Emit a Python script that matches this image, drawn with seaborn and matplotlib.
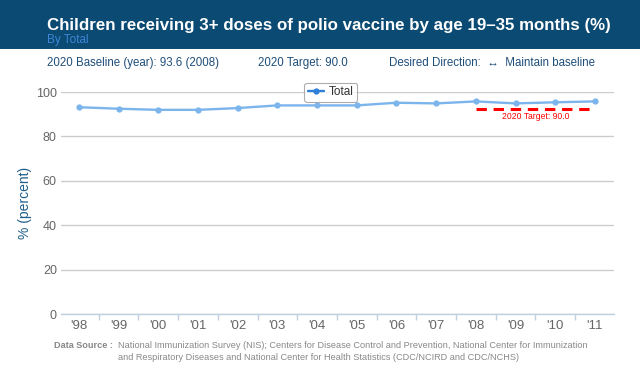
import numpy as np
import pandas as pd
import matplotlib
matplotlib.use("Agg")
import matplotlib.pyplot as plt
import seaborn as sns
from matplotlib.patches import Rectangle

# values
years = ["'98", "'99", "'00", "'01", "'02", "'03", "'04", "'05", "'06", "'07", "'08", "'09", "'10", "'11"]
total = [93.2, 92.5, 92.0, 92.0, 92.8, 94.0, 94.0, 94.0, 95.2, 94.9, 95.8, 94.9, 95.4, 95.8]
target_years = ["'08", "'09", "'10", "'11"]
target_level = [92.5, 92.5, 92.5, 92.5]   # drawn position of the 90.0 target line
y_ticks = [0, 20, 40, 60, 80, 100]

sns.set_theme(style="white")
plt.rcParams['font.family'] = ['Liberation Sans', 'DejaVu Sans']

df = pd.DataFrame({"pos": np.arange(len(years)), "Total": total})
tdf = pd.DataFrame({"pos": [years.index(y) for y in target_years], "val": target_level})

fig = plt.figure(figsize=(6.4, 3.65), dpi=100)
ax = fig.add_axes([0.0953, 0.1397, 0.8641, 0.608])

sns.lineplot(data=df, x="pos", y="Total", ax=ax, color="#7cb5ec", linewidth=1.7,
             marker="o", markersize=4.5, markeredgewidth=0, label="Total")
sns.lineplot(data=tdf, x="pos", y="val", ax=ax, color="#ff0000", linewidth=2.2,
             legend=False)
ax.lines[-1].set_linestyle((0, (3.4, 2.2)))
ax.text(tdf["pos"].mean(), target_level[0] - 3.4, "2020 Target: 90.0", color="#ff0000",
        fontsize=6.2, ha="center", va="center")

ax.set_xlim(-0.45, len(years) - 0.52)
ax.set_ylim(0, 100)
ax.set_yticks(y_ticks)
ax.set_xticks(np.arange(len(years)))
ax.set_xticklabels(years)
ax.set_xticks(np.arange(len(years) - 1) + 0.5, minor=True)
ax.tick_params(axis="x", which="major", length=0, pad=4.5, labelsize=9.5, labelcolor="#666666")
ax.tick_params(axis="x", which="minor", length=4, color="#c0d0e0", width=1, bottom=True)
ax.tick_params(axis="y", length=0, pad=3, labelsize=9, labelcolor="#666666")
ax.yaxis.grid(True, color="#cccccc", linewidth=1)
ax.set_axisbelow(True)
for s in ["top", "right", "left"]:
    ax.spines[s].set_visible(False)
ax.spines["bottom"].set_color("#c0d0e0")
ax.spines["bottom"].set_linewidth(1)
ax.set_xlabel("")
ax.set_ylabel("% (percent)", color="#1f5f8b", fontsize=10)
ax.yaxis.set_label_coords(-0.052, 0.5)

leg = ax.legend(loc="center", bbox_to_anchor=(0.488, 1.0), frameon=True, fontsize=8.5,
                handlelength=1.4, handletextpad=0.4, borderpad=0.3, fancybox=True,
                labelcolor="#333333")
leg.get_frame().set_edgecolor("#999999")
leg.get_frame().set_linewidth(0.8)
for h in leg.legend_handles:
    h.set_color("#2f7ed8")

# header band
fig.patches.append(Rectangle((0, 0.866), 1, 0.134, transform=fig.transFigure,
                             facecolor="#0b4a72", edgecolor="none", zorder=0))
fig.text(0.514, 0.931, "Children receiving 3+ doses of polio vaccine by age 19\u201335 months (%)",
         color="white", fontsize=12.2, fontweight="bold", ha="center", va="center")
fig.text(0.073, 0.891, "By Total", color="#3d85d8", fontsize=8.5, ha="left", va="center")

info_color = "#1f4e79"
fig.text(0.073, 0.827, "2020 Baseline (year): 93.6 (2008)", color=info_color, fontsize=8.3, va="center")
fig.text(0.403, 0.827, "2020 Target: 90.0", color=info_color, fontsize=8.3, va="center")
fig.text(0.608, 0.827, "Desired Direction:  \u2194  Maintain baseline", color=info_color,
         fontsize=8.3, va="center")

fig.text(0.085, 0.053, "Data Source :", color="#888888", fontsize=6.55, fontweight="bold", va="center")
fig.text(0.184, 0.053, "National Immunization Survey (NIS); Centers for Disease Control and Prevention, National Center for Immunization",
         color="#888888", fontsize=6.55, va="center")
fig.text(0.184, 0.020, "and Respiratory Diseases and National Center for Health Statistics (CDC/NCIRD and CDC/NCHS)",
         color="#888888", fontsize=6.55, va="center")

fig.savefig("out.png", dpi=100)
